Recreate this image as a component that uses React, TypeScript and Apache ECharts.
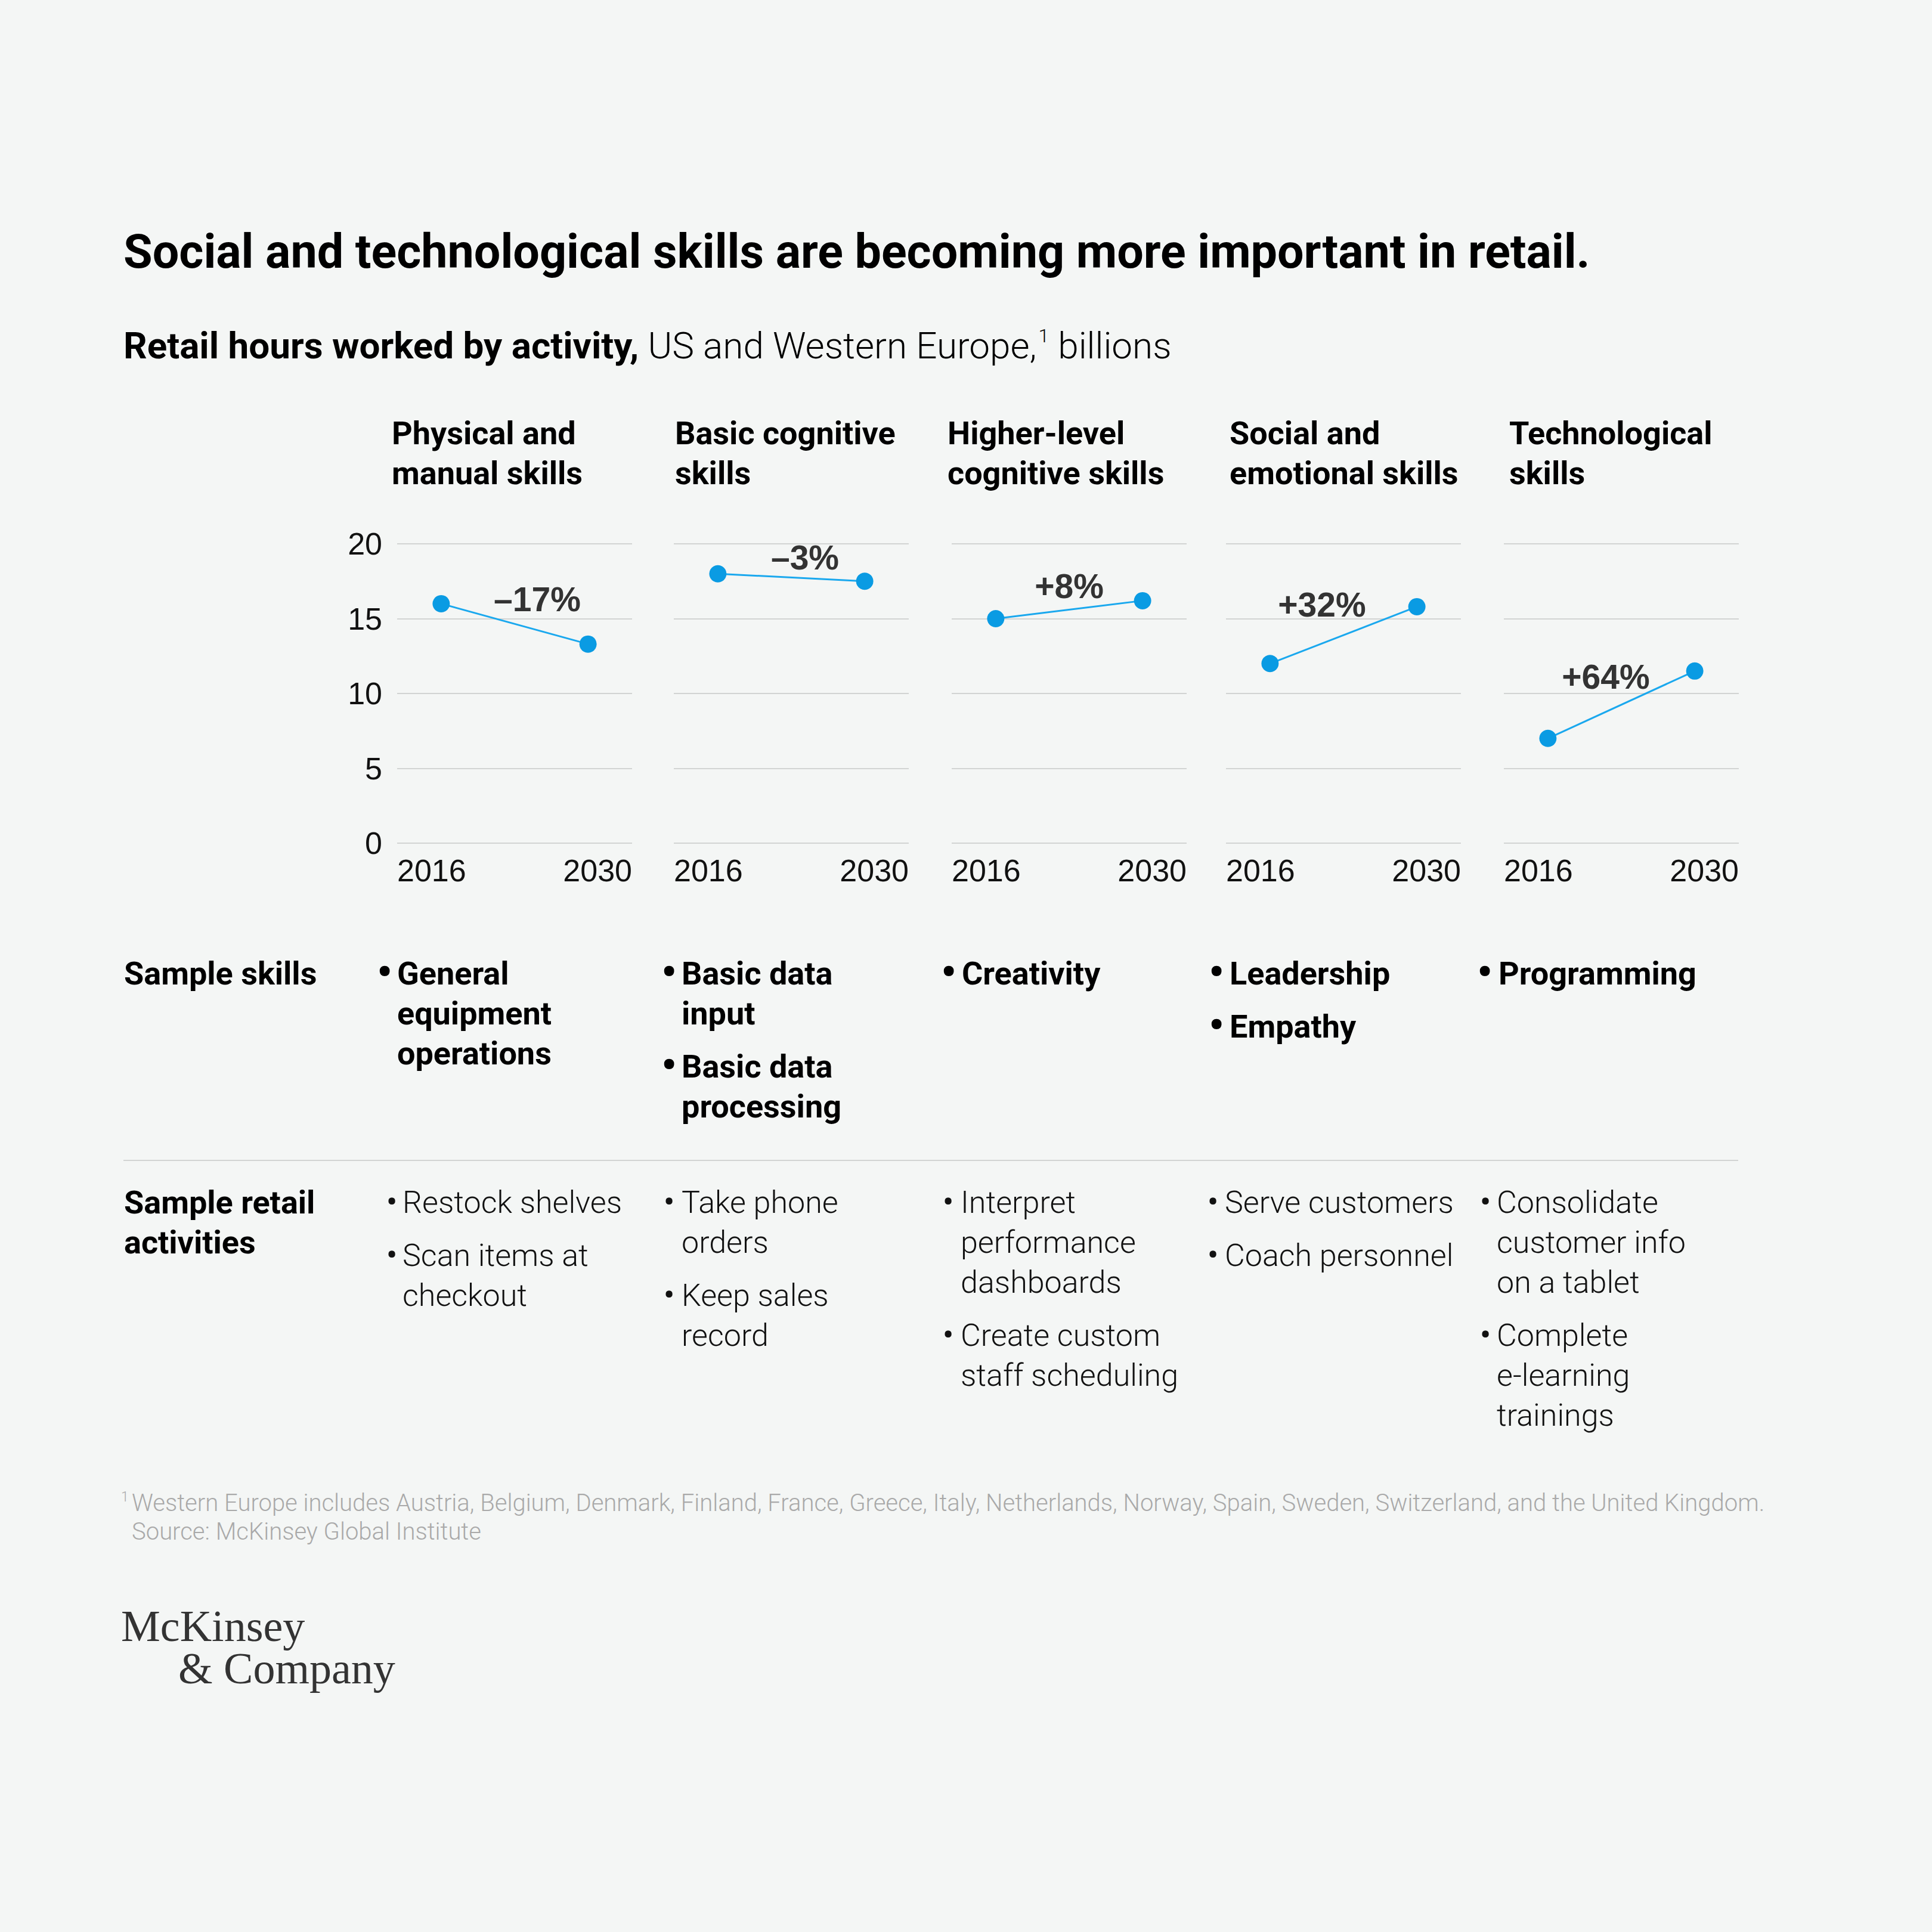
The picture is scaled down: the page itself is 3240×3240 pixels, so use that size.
import React, { useEffect, useRef } from 'react';
import * as echarts from 'echarts';

// ---------------- DATA ----------------
const years = ['2016', '2030'];
const skillHeaders = [
  'Physical and\nmanual skills',
  'Basic cognitive\nskills',
  'Higher-level\ncognitive skills',
  'Social and\nemotional skills',
  'Technological\nskills',
];
const hours2016 = [16, 18, 15, 12, 7];
const hours2030 = [13.3, 17.5, 16.2, 15.8, 11.5];
const changeLabels = ['\u201317%', '\u20133%', '+8%', '+32%', '+64%'];
const yMin = 0;
const yMax = 20;
const yStep = 5;
const sampleSkills = [
  ['General\nequipment\noperations'],
  ['Basic data\ninput', 'Basic data\nprocessing'],
  ['Creativity'],
  ['Leadership', 'Empathy'],
  ['Programming'],
];
const sampleActivities = [
  ['Restock shelves', 'Scan items at\ncheckout'],
  ['Take phone\norders', 'Keep sales\nrecord'],
  ['Interpret\nperformance\ndashboards', 'Create custom\nstaff scheduling'],
  ['Serve customers', 'Coach personnel'],
  ['Consolidate\ncustomer info\non a tablet', 'Complete\ne-learning\ntrainings'],
];
const titleText = 'Social and technological skills are becoming more important in retail.';
const subtitleBold = 'Retail hours worked by activity,';
const subtitleRegular = ' US and Western Europe,';
const subtitleSup = '1';
const subtitleUnit = ' billions';
const rowLabelSkills = 'Sample skills';
const rowLabelActivities = 'Sample retail\nactivities';
const footnoteMark = '1';
const footnoteText =
  'Western Europe includes Austria, Belgium, Denmark, Finland, France, Greece, Italy, Netherlands, Norway, Spain, Sweden, Switzerland, and the United Kingdom.';
const sourceText = 'Source: McKinsey Global Institute';
const logoLine1 = 'McKinsey';
const logoLine2 = '& Company';

// ---------------- LAYOUT / STYLE ----------------
const SIZE = 3240;
const BG = '#f4f6f5';
const GRID_COLOR = '#d2d4d3';
const LINE_COLOR = '#1aa8ee';
const DOT_COLOR = '#0a9be3';
const SANS = 'Roboto';
const TICK_FONT = 'Liberation Sans';
const SERIF = 'Liberation Serif';

const panelLeft = [666, 1130, 1596, 2056, 2522];
const panelWidth = 394;
const plotTop = 912;
const plotHeight = 502;
const headerX = [657, 1132, 1589, 2062, 2531];
const labelOffsets = [
  [38, -41],
  [23, -33],
  [0, -39],
  [-36, -51],
  [-26, -47],
];
const skillBulletX = [632, 1109, 1578, 2027, 2477];
const skillTextX = [666, 1143, 1613, 2062, 2513];
const actBulletX = [647, 1112, 1580, 2024, 2481];
const actTextX = [675, 1143, 1611, 2054, 2510];
const LH = 67;
const ITEM_GAP = 22;

function text(
  x: number,
  capCenterY: number,
  str: string,
  size: number,
  weight: number | string,
  color: string,
  family: string = SANS,
  lineHeight: number = LH
) {
  return {
    type: 'text',
    x,
    y: capCenterY - lineHeight / 2,
    silent: true,
    style: {
      text: str,
      fontSize: size,
      fontWeight: weight,
      fontFamily: family,
      fill: color,
      align: 'left',
      verticalAlign: 'top',
      lineHeight,
    },
  };
}

function bulletList(
  items: string[],
  bulletX: number,
  textX: number,
  firstY: number,
  size: number,
  bulletSize: number,
  weight: number | string,
  color: string
) {
  const els: any[] = [];
  let y = firstY;
  items.forEach((it) => {
    els.push(text(bulletX, y - 2, '\u2022', bulletSize, weight, color));
    els.push(text(textX, y, it, size, weight, color));
    const n = it.split('\n').length;
    y += n * LH + ITEM_GAP;
  });
  return els;
}

function buildOption() {
  const grids = panelLeft.map((l) => ({
    left: l,
    top: plotTop,
    width: panelWidth,
    height: plotHeight,
    containLabel: false,
  }));

  const xAxes: any[] = [];
  panelLeft.forEach((_, i) => {
    xAxes.push({ type: 'value', gridIndex: i, min: -0.3, max: 1.3, show: false });
    xAxes.push({
      type: 'category',
      gridIndex: i,
      position: 'bottom',
      data: years,
      boundaryGap: false,
      axisLine: { show: false },
      axisTick: { show: false },
      splitLine: { show: false },
      axisLabel: {
        show: true,
        interval: 0,
        margin: 20,
        fontSize: 52,
        fontFamily: TICK_FONT,
        color: '#111',
        alignMinLabel: 'left',
        alignMaxLabel: 'right',
      },
    });
  });

  const yAxes = panelLeft.map((_, i) => ({
    type: 'value',
    gridIndex: i,
    min: yMin,
    max: yMax,
    interval: yStep,
    axisLine: { show: false },
    axisTick: { show: false },
    splitLine: { show: true, lineStyle: { color: GRID_COLOR, width: 2 } },
    axisLabel: {
      show: i === 0,
      margin: 25,
      fontSize: 52,
      fontFamily: TICK_FONT,
      color: '#111',
      padding: [0, 0, 24, 0],
    },
  }));

  const series = panelLeft.map((_, i) => ({
    type: 'line',
    xAxisIndex: 2 * i,
    yAxisIndex: i,
    data: [
      [0, hours2016[i]],
      [1, hours2030[i]],
    ],
    symbol: 'circle',
    symbolSize: 29,
    lineStyle: { color: LINE_COLOR, width: 3 },
    itemStyle: { color: DOT_COLOR },
    silent: true,
    markPoint: {
      silent: true,
      symbol: 'circle',
      symbolSize: 1,
      itemStyle: { color: 'rgba(0,0,0,0)' },
      label: {
        show: true,
        position: 'inside',
        formatter: changeLabels[i],
        fontSize: 57,
        fontWeight: 'bold',
        fontFamily: TICK_FONT,
        color: '#333',
        offset: labelOffsets[i],
      },
      data: [{ coord: [0.5, (hours2016[i] + hours2030[i]) / 2] }],
    },
  }));

  const g: any[] = [];
  // title
  g.push(text(207, 422, titleText, 79, 700, '#000', SANS, 90));
  // subtitle (rich)
  g.push({
    type: 'text',
    x: 207,
    y: 579 - 32,
    silent: true,
    style: {
      text: `{b|${subtitleBold}}{r|${subtitleRegular}}{s|${subtitleSup}}{r|${subtitleUnit}}`,
      fill: '#000',
      align: 'left',
      verticalAlign: 'top',
      rich: {
        b: { fontSize: 62, fontWeight: 700, fontFamily: SANS, fill: '#000', lineHeight: 64 },
        r: { fontSize: 62, fontWeight: 300, fontFamily: SANS, fill: '#000', lineHeight: 64 },
        s: { fontSize: 32, fontWeight: 300, fontFamily: SANS, fill: '#000', lineHeight: 34, verticalAlign: 'top', padding: [0, 0, 0, 3] },
      },
    },
  });
  // panel headers
  skillHeaders.forEach((h, i) => g.push(text(headerX[i], 726, h, 54, 700, '#000')));
  // row labels
  g.push(text(208, 1632, rowLabelSkills, 54, 700, '#000'));
  g.push(text(208, 2016, rowLabelActivities, 54, 700, '#000'));
  // skills bullets
  sampleSkills.forEach((items, i) => {
    g.push(...bulletList(items, skillBulletX[i], skillTextX[i], 1632, 54, 72, 700, '#000'));
  });
  // separator
  g.push({
    type: 'line',
    silent: true,
    shape: { x1: 207, y1: 1946, x2: 2915, y2: 1946 },
    style: { stroke: GRID_COLOR, lineWidth: 2 },
  });
  // activities bullets
  sampleActivities.forEach((items, i) => {
    g.push(...bulletList(items, actBulletX[i], actTextX[i], 2016, 52, 62, 300, '#111'));
  });
  // footnote
  g.push(text(203, 2510, footnoteMark, 23, 300, '#a9a9a9', SANS, 30));
  g.push(text(221, 2520, footnoteText, 40, 300, '#a9a9a9', SANS, 48));
  g.push(text(221, 2568, sourceText, 40, 300, '#a9a9a9', SANS, 48));
  // logo
  g.push(text(203, 2727, logoLine1, 74, 400, '#333', SERIF, 80));
  g.push(text(299, 2798, logoLine2, 74, 400, '#333', SERIF, 80));

  return {
    animation: false,
    backgroundColor: BG,
    grid: grids,
    xAxis: xAxes,
    yAxis: yAxes,
    series,
    graphic: { elements: g },
  };
}

export default function App() {
  const ref = useRef<HTMLDivElement>(null);
  useEffect(() => {
    if (!ref.current) return;
    const chart = echarts.init(ref.current, null, { renderer: 'svg', width: SIZE, height: SIZE });
    chart.setOption(buildOption() as any);
    return () => chart.dispose();
  }, []);
  return (
    <div
      ref={ref}
      style={{ position: 'absolute', left: 0, top: 0, width: SIZE, height: SIZE, background: BG }}
    />
  );
}
